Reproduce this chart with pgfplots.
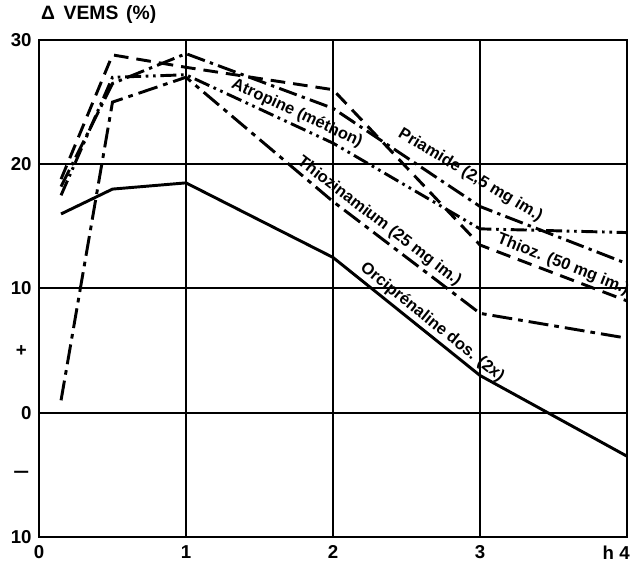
\documentclass[border=0pt]{standalone}
\usepackage{fontspec}
\setmainfont{Liberation Sans}
\usepackage{graphicx}
\usepackage{pgfplots}
\pgfplotsset{compat=1.18}
\begin{document}
\begin{tikzpicture}
\begin{axis}[
  scale only axis, width=441pt, height=372.75pt,
  xmin=0, xmax=4, ymin=-10, ymax=30,
  axis line style={line width=1.8pt},
  xtick={0,1,2,3,4}, xticklabels={0,1,2,3,{\makebox[0pt][r]{h\ 4\kern-2pt}}},
  ytick={-10,0,10,20,30}, yticklabels={10,0,10,20,30},
  extra y ticks={-5,5},
  extra y tick labels={{\makebox[1.112em]{\scalebox{1.5}[1]{−}}},{\makebox[1.112em]{+}}},
  extra y tick style={grid=none},
  xmajorgrids, ymajorgrids,
  major grid style={line width=1.5pt, black},
  major tick length=0pt,
  tick label style={font=\bfseries\fontsize{14}{14}\selectfont},
  /pgf/number format/assume math mode=true,
  xticklabel style={yshift=-3pt},
  yticklabel style={xshift=-2pt},
  clip=false,
  every axis plot/.append style={black, line width=2.2pt, line cap=butt, line join=miter, mark=none},
]
% Orciprenaline dos. (2x)
\addplot[black, solid, mark=none] coordinates {(0.15,16) (0.5,18) (1,18.5) (2,12.5) (3,3) (4,-3.5)};
% Thiozinamium (25 mg im.)
\addplot[dash pattern=on 15pt off 4.5pt on 3.5pt off 4.5pt] coordinates {(0.15,1) (0.5,25) (1,27) (2,17) (3,8) (4,6)};
% Thioz. (50 mg im.)
\addplot[dash pattern=on 11pt off 6pt] coordinates {(0.15,18.8) (0.5,28.8) (1,27.8) (2,26) (3,13.5) (4,9)};
% Priamide (2,5 mg im.)
\addplot[dash pattern=on 14pt off 4pt on 2.5pt off 4pt] coordinates {(0.15,18.2) (0.5,26.5) (1,28.9) (2,24.5) (3,16.6) (4,12)};
% Atropine (methon)
\addplot[dash pattern=on 12pt off 3.5pt on 2pt off 3.5pt on 2pt off 3.5pt] coordinates {(0.15,17.5) (0.5,27) (1,27.2) (2,21.7) (3,14.8) (4,14.5)};

\tikzset{lbl/.style={font=\bfseries\fontsize{12.3}{13}\selectfont, inner sep=3pt, anchor=south}}
\node[lbl, rotate=-24.8] at (axis cs:1.721,23.23) {Atropine (méthon)};
\node[lbl, rotate=-31, inner sep=9.5pt] at (axis cs:2.862,17.69) {Priamide (2,5 mg im.)};
\node[lbl, rotate=-37.3] at (axis cs:2.265,14.62) {Thiozinamium (25 mg im.)};
\node[lbl, rotate=-21.5, inner sep=2.5pt] at (axis cs:3.536,11.09) {Thioz. (50 mg im.)};
\node[lbl, rotate=-38.7, inner sep=2.5pt] at (axis cs:2.627,6.54) {Orciprénaline dos. (2x)};

\coordinate (bl) at (rel axis cs:0,0);
\coordinate (tr) at (rel axis cs:1,1);
\coordinate (tl) at (rel axis cs:0,1);
\end{axis}
\node[anchor=west, font=\bfseries\fontsize{14.5}{14.5}\selectfont] at ([shift={(-2pt,18.75pt)}]tl) {Δ\hspace{0.45em}VEMS\hspace{0.4em}(\%)};
\pgfresetboundingbox
\path[use as bounding box] ([shift={(-29.25pt,-24pt)}]bl) rectangle ([shift={(2.25pt,30pt)}]tr);
\end{tikzpicture}
\end{document}
